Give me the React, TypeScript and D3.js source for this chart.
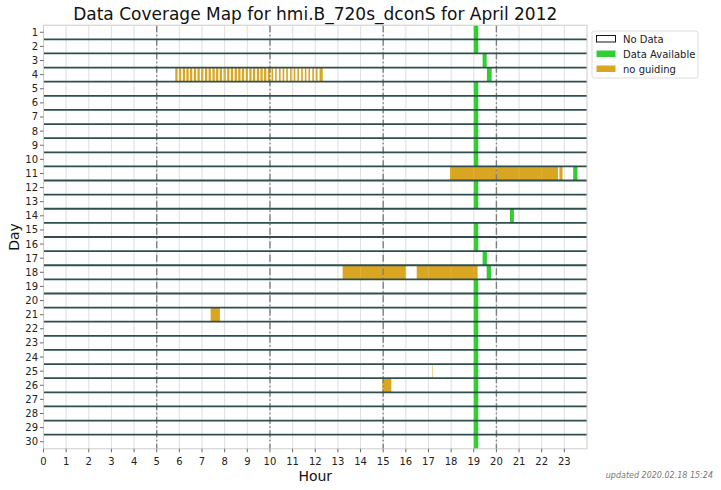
import React from "react";
import * as d3 from "d3";

const title = "Data Coverage Map for hmi.B_720s_dconS for April 2012";
const days = d3.range(1, 31);
const hourTicks = d3.range(0, 24);
const majorHours = [5, 10, 15, 20];

// [day, startHour, endHour]
const dataAvailable: [number, number, number][] = [
  [1, 19.0, 19.2], [2, 19.0, 19.2], [3, 19.39, 19.57], [4, 19.58, 19.79],
  [5, 19.0, 19.2], [6, 19.0, 19.2], [7, 19.0, 19.2], [8, 19.0, 19.2],
  [9, 19.0, 19.2], [10, 19.0, 19.2], [11, 23.39, 23.58], [12, 19.0, 19.2],
  [13, 19.0, 19.2], [14, 20.6, 20.77], [15, 19.0, 19.2], [16, 19.0, 19.2],
  [17, 19.39, 19.58], [18, 19.57, 19.76], [19, 19.0, 19.2], [20, 19.0, 19.2],
  [21, 19.0, 19.2], [22, 19.0, 19.2], [23, 19.0, 19.2], [24, 19.0, 19.2],
  [25, 19.0, 19.2], [26, 19.0, 19.2], [27, 19.0, 19.2], [28, 19.0, 19.2],
  [29, 19.0, 19.2], [30, 19.0, 19.2],
];

const day4Stripes: [number, number][] = [
  [5.82, 5.92], [5.98, 6.08], [6.15, 6.25], [6.31, 6.41], [6.47, 6.57],
  [6.64, 6.74], [6.80, 6.90], [6.96, 7.06], [7.13, 7.23], [7.29, 7.39],
  [7.46, 7.56], [7.62, 7.72], [7.78, 7.88], [7.95, 8.05], [8.11, 8.21],
  [8.27, 8.37], [8.44, 8.54], [8.60, 8.70], [8.76, 8.86], [8.93, 9.03],
  [9.09, 9.19], [9.25, 9.35], [9.42, 9.52], [9.58, 9.68], [9.74, 9.84],
  [9.91, 10.01], [10.07, 10.14], [10.23, 10.30], [10.40, 10.47], [10.56, 10.63],
  [10.72, 10.79], [10.89, 10.96], [11.05, 11.12], [11.21, 11.28], [11.38, 11.45],
  [11.54, 11.61], [11.70, 11.77], [11.87, 11.94], [12.03, 12.10], [12.19, 12.33],
];

const noGuiding: [number, number, number][] = [
  ...day4Stripes.map(([s, e]) => [4, s, e] as [number, number, number]),
  [11, 17.95, 22.72], [11, 22.78, 22.92],
  [18, 13.21, 16.0], [18, 16.48, 19.17],
  [21, 7.38, 7.79],
  [25, 17.17, 17.19],
  [26, 14.96, 15.36],
];

const legendItems = [
  { label: "No Data", fill: "#ffffff", stroke: "#000000" },
  { label: "Data Available", fill: "#32CD32", stroke: "none" },
  { label: "no guiding", fill: "#DAA520", stroke: "none" },
];

const W = 721, H = 490;
const left = 43.5, right = 587, top = 25.2, bottom = 448.8;
const font = "DejaVu Sans, sans-serif";

export default function App() {
  const x = d3.scaleLinear().domain([0, 24]).range([left, right]);
  const y = d3.scaleLinear().domain([0.5, 30.5]).range([top, bottom]);

  return (
    <svg width={W} height={H} style={{ position: "absolute", left: 0, top: 0, background: "#fff" }}
      fontFamily={font}>
      <rect x={0} y={0} width={W} height={H} fill="#fff" />
      <text x={(left + right) / 2} y={20} fontSize={17} textAnchor="middle" fill="#111">{title}</text>

      {/* hour grid */}
      {hourTicks.map((h) => (
        <line key={"g" + h} x1={x(h)} x2={x(h)} y1={top} y2={bottom} stroke="#d8d8d8" strokeWidth={0.9} />
      ))}

      {/* data available */}
      {dataAvailable.map(([d, s, e], i) => (
        <rect key={"a" + i} x={x(s)} width={x(e) - x(s)} y={y(d - 0.5)} height={y(d + 0.5) - y(d - 0.5)} fill="#32CD32" />
      ))}
      {/* no guiding */}
      {noGuiding.map(([d, s, e], i) => (
        <rect key={"n" + i} x={x(s)} width={x(e) - x(s)} y={y(d - 0.5)} height={y(d + 0.5) - y(d - 0.5)} fill="#DAA520" />
      ))}

      {/* grid overlay on bars */}
      {hourTicks.map((h) => (
        <line key={"go" + h} x1={x(h)} x2={x(h)} y1={top} y2={bottom} stroke="#ffffff" strokeOpacity={0.15} strokeWidth={0.9} />
      ))}

      {/* major dashed lines */}
      {majorHours.map((h) => (
        <line key={"m" + h} x1={x(h)} x2={x(h)} y1={top} y2={bottom} stroke="#7f7f7f" strokeWidth={1.4}
          strokeDasharray="7,2.5,1.5,2.5" />
      ))}

      {/* day separators */}
      {days.slice(0, -1).map((d) => (
        <line key={"s" + d} x1={left} x2={right} y1={y(d + 0.5)} y2={y(d + 0.5)} stroke="#2F4F4F" strokeWidth={1.8} />
      ))}

      {/* frame */}
      <rect x={left} y={top} width={right - left} height={bottom - top} fill="none" stroke="#cccccc" strokeWidth={1} />

      {/* y axis */}
      {days.map((d) => (
        <g key={"yt" + d}>
          <line x1={left - 3.5} x2={left} y1={y(d)} y2={y(d)} stroke="#444" strokeWidth={0.8} />
          <text x={left - 5.5} y={y(d)} dy="0.35em" fontSize={10} textAnchor="end" fill="#222">{d}</text>
        </g>
      ))}
      <text transform={`translate(${18.5},${(top + bottom) / 2}) rotate(-90)`} fontSize={14} textAnchor="middle" fill="#111">Day</text>

      {/* x axis */}
      {hourTicks.map((h) => (
        <g key={"xt" + h}>
          <line x1={x(h)} x2={x(h)} y1={bottom} y2={bottom + 3.5} stroke="#444" strokeWidth={0.8} />
          <text x={x(h)} y={bottom + 16} fontSize={10} textAnchor="middle" fill="#222">{h}</text>
        </g>
      ))}
      <text x={(left + right) / 2} y={481} fontSize={14} textAnchor="middle" fill="#111">Hour</text>

      {/* legend */}
      <rect x={592} y={31} width={106} height={47} fill="#fff" stroke="#dddddd" strokeWidth={1} rx={2} />
      {legendItems.map((it, i) => (
        <g key={"l" + i}>
          <rect x={596.5} y={35.5 + i * 15} width={19} height={6.5} fill={it.fill} stroke={it.stroke} strokeWidth={0.9} />
          <text x={623} y={39 + i * 15} dy="0.35em" fontSize={10} fill="#222">{it.label}</text>
        </g>
      ))}

      <text x={713} y={478} fontSize={8} fontStyle="italic" textAnchor="end" fill="#777">updated 2020.02.18 15:24</text>
    </svg>
  );
}
